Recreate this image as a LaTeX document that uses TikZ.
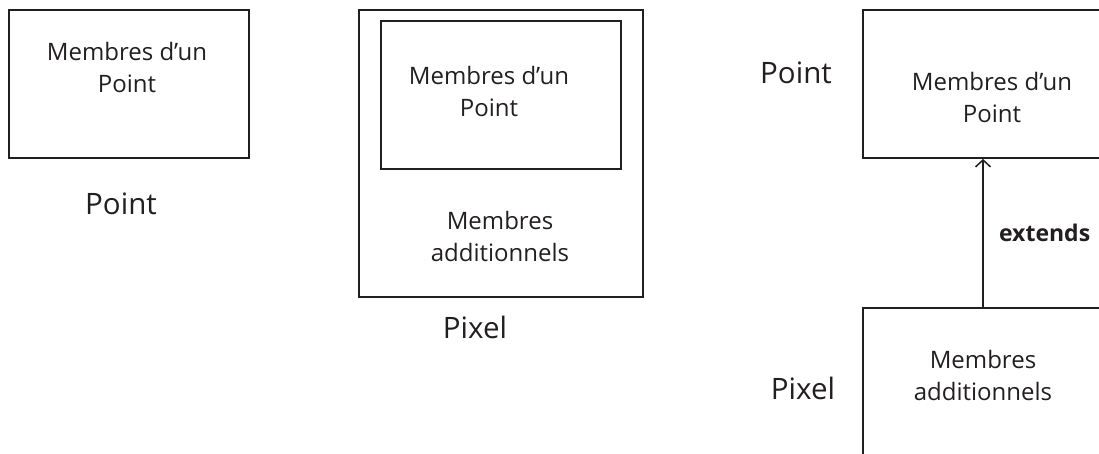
\documentclass[tikz,border=0pt]{standalone}
\usepackage{fontspec}
\setmainfont{Open Sans}
\usetikzlibrary{positioning,arrows.meta}
\definecolor{ink}{HTML}{231F20}
\tikzset{
  membox/.style={rectangle,draw=ink,line width=1.8pt,minimum width=240pt,minimum height=148pt,inner sep=0pt},
  memtxt/.style={align=center,text=ink,inner sep=0pt,font=\fontsize{24}{32}\selectfont},
  clsname/.style={text=ink,inner sep=0pt,font=\fontsize{29.5}{34}\selectfont},
  inherit/.style={-{Straight Barb[length=7pt,width=15pt]},draw=ink,line width=1.5pt},
}
\begin{document}
\begin{tikzpicture}[x=1pt,y=-1pt]
  \useasboundingbox (0,0) rectangle (1099,453);
  \clip (0,0) rectangle (1099,453);
  % Point seul
  \node[membox] (pt) at (129,84) {};
  \node[memtxt] (pttxt) at (127,67) {Membres d’un\\Point};
  \node[clsname] (ptname) at (121,204) {Point};
  % Pixel qui contient un Point
  \node[membox,minimum width=284pt,minimum height=287pt] (px) at (501,153.5) {};
  \node[membox] (pxin) at (501,95) {};
  \node[memtxt] (pxintxt) at (489,91.5) {Membres d’un\\Point};
  \node[memtxt] (pxadd) at (500,236.5) {Membres\\additionnels};
  \node[clsname] (pxname) at (475,327) {Pixel};
  % Pixel extends Point
  \node[membox] (ptb) at (983,84) {};
  \node[memtxt] (ptbtxt) at (992,97) {Membres d’un\\Point};
  \node[clsname] (ptbname) at (796,73) {Point};
  \node[membox] (pxb) at (983,382) {};
  \node[memtxt] (pxbtxt) at (983,375) {Membres\\additionnels};
  \node[clsname] (pxbname) at (803,388) {Pixel};
  \draw[inherit] (pxb.north) -- node[right=12pt,text=ink,font=\fontsize{23}{28}\selectfont\bfseries] (ext) {extends} (ptb.south);
\end{tikzpicture}
\end{document}
